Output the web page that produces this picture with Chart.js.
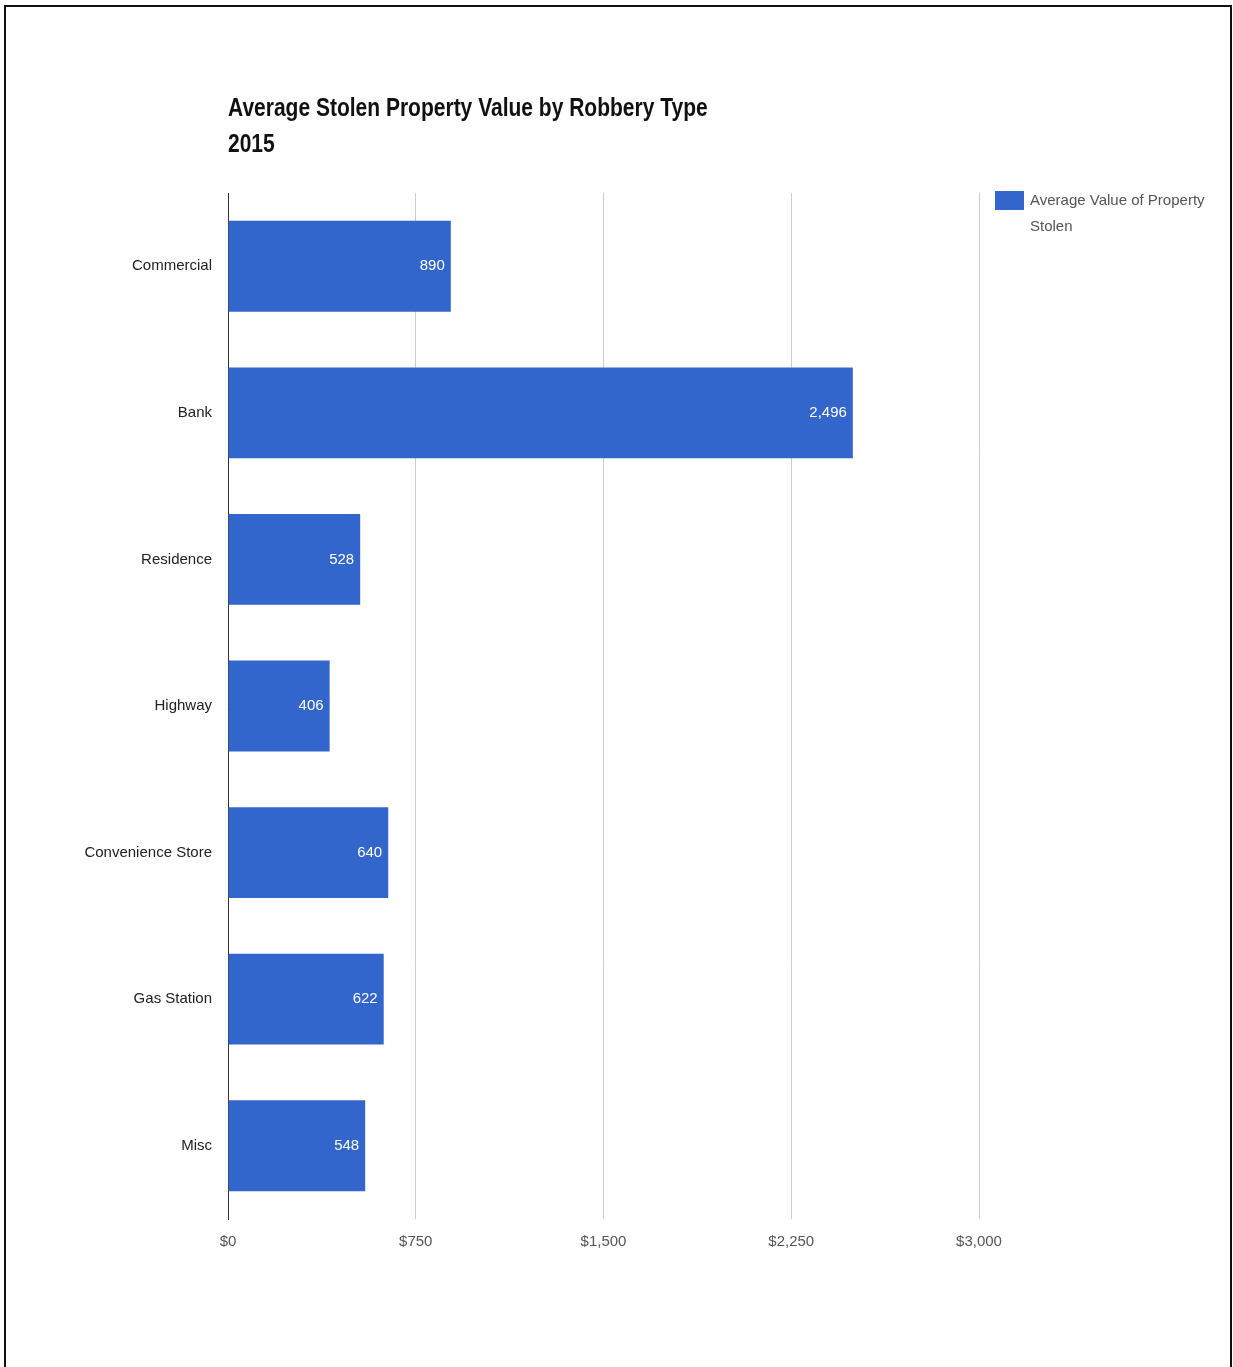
<!DOCTYPE html>
<html>
<head>
<meta charset="utf-8">
<script src="https://cdn.jsdelivr.net/npm/chart.js@4.4.1/dist/chart.umd.min.js"></script>
<style>
    html, body { margin: 0; padding: 0; background: #fff; overflow: hidden; }
    #frame {
        position: absolute; left: 4px; top: 5px;
        width: 1224px; height: 1400px;
        border: 2px solid #111; border-bottom: none;
    }
    #chart-wrap { position: absolute; left: 0; top: 0; width: 1233px; height: 1367px; }
</style>
</head>
<body>
<div id="frame"></div>
<div id="chart-wrap"><canvas id="my-chart"></canvas></div>
<script>
const categories = ['Commercial', 'Bank', 'Residence', 'Highway', 'Convenience Store', 'Gas Station', 'Misc'];
const avgValues = [890, 2496, 528, 406, 640, 622, 548];
const seriesLabel = ['Average Value of Property', 'Stolen'];
const titleLines = ['Average Stolen Property Value by Robbery Type', '2015'];

const barColor = '#3366cc';
const fontFamily = '"Liberation Sans", Arial, sans-serif';

// title, legend and value labels drawn by hand (Google-chart look)
const extrasPlugin = {
    id: 'extras',
    afterDatasetsDraw(chart) {
        const ctx = chart.ctx;
        const meta = chart.getDatasetMeta(0);
        ctx.save();
        ctx.font = '15px ' + fontFamily;
        ctx.fillStyle = '#ffffff';
        ctx.textAlign = 'right';
        ctx.textBaseline = 'middle';
        meta.data.forEach((bar, i) => {
            ctx.fillText(avgValues[i].toLocaleString('en-US'), bar.x - 6, bar.y);
        });
        ctx.restore();
    },
    afterDraw(chart) {
        const ctx = chart.ctx;
        const left = chart.chartArea.left;
        ctx.save();
        // title
        ctx.fillStyle = '#111';
        ctx.font = 'bold 21px ' + fontFamily;
        ctx.textBaseline = 'middle';
        ctx.textAlign = 'left';
        titleLines.forEach((line, i) => {
            ctx.save();
            ctx.translate(left, 109 + i * 36);
            ctx.scale(1, 1.2);
            ctx.fillText(line, 0, 0);
            ctx.restore();
        });
        // legend
        const lx = chart.chartArea.right + 16;
        ctx.fillStyle = barColor;
        ctx.fillRect(lx, 191, 29, 19);
        ctx.fillStyle = '#555';
        ctx.font = '15px ' + fontFamily;
        seriesLabel.forEach((line, i) => {
            ctx.fillText(line, lx + 35, 201 + i * 26);
        });
        ctx.restore();
    }
};

const ctx = document.getElementById('my-chart').getContext('2d');
new Chart(ctx, {
    type: 'bar',
    data: {
        labels: categories,
        datasets: [{
            label: seriesLabel.join(' '),
            data: avgValues,
            backgroundColor: barColor,
            borderWidth: 0,
            categoryPercentage: 0.62,
            barPercentage: 1.0
        }]
    },
    options: {
        indexAxis: 'y',
        responsive: true,
        maintainAspectRatio: false,
        animation: false,
        layout: {
            padding: { left: 0, right: 254, top: 193, bottom: 88 }
        },
        scales: {
            x: {
                min: 0,
                max: 3000,
                ticks: {
                    stepSize: 750,
                    padding: 14,
                    color: '#555',
                    font: { family: fontFamily, size: 15 },
                    callback: v => '$' + v.toLocaleString('en-US')
                },
                grid: {
                    color: '#cccccc',
                    drawTicks: false
                },
                border: { display: false },
                afterFit: scale => { scale.height = 60; }
            },
            y: {
                ticks: {
                    padding: 16,
                    color: '#222',
                    font: { family: fontFamily, size: 15 }
                },
                grid: { display: false, drawTicks: false },
                border: { display: true, color: '#333', width: 1 },
                afterFit: scale => { scale.width = 228; }
            }
        },
        plugins: {
            legend: { display: false },
            tooltip: { enabled: false }
        }
    },
    plugins: [extrasPlugin]
});
</script>
</body>
</html>
